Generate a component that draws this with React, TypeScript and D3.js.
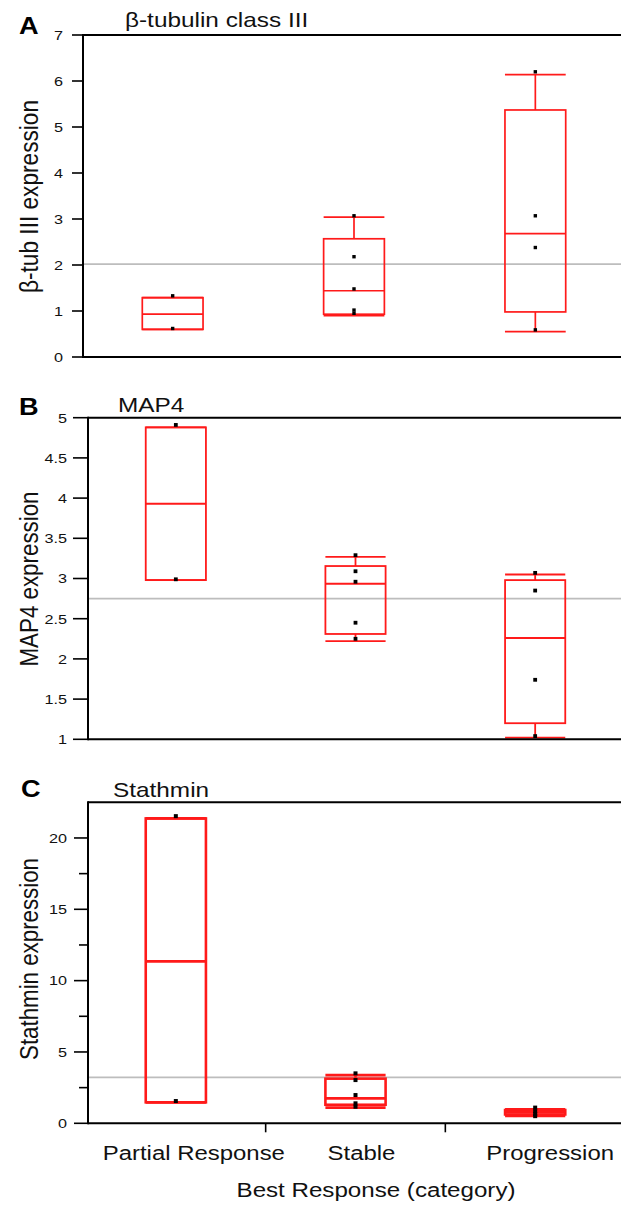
import React from "react";
import * as d3 from "d3";

// ---------- data ----------
const categories = ["Partial Response", "Stable", "Progression"];
// [min, q1, median, q3, max] per category
const tubBoxes = [
  [0.6, 0.6, 0.93, 1.29, 1.29],
  [0.9, 0.93, 1.44, 2.57, 3.04],
  [0.55, 0.98, 2.68, 5.37, 6.14],
];
const tubPoints = [
  [1.33, 0.62],
  [3.07, 2.18, 1.48, 1.02, 0.95],
  [6.2, 3.07, 2.38, 0.59],
];
const tubRef = 2.02;
const tubTicks = [0, 1, 2, 3, 4, 5, 6, 7];

const mapBoxes = [
  [2.98, 2.98, 3.93, 4.88, 4.88],
  [2.22, 2.31, 2.935, 3.155, 3.27],
  [1.02, 1.2, 2.26, 2.98, 3.05],
];
const mapPoints = [
  [4.91, 2.99],
  [3.29, 3.09, 2.96, 2.45, 2.25],
  [3.07, 2.85, 1.74, 1.04],
];
const mapRef = 2.75;
const mapTicks = [1, 1.5, 2, 2.5, 3, 3.5, 4, 4.5, 5];

const staBoxes = [
  [1.47, 1.47, 11.35, 21.37, 21.37],
  [1.1, 1.3, 1.75, 3.13, 3.38],
  [0.52, 0.62, 0.78, 0.93, 0.98],
];
const staPoints = [
  [21.53, 1.56],
  [3.5, 3.03, 1.98, 1.4, 1.16],
  [1.1, 0.85, 0.65, 0.5],
];
const staRef = 3.22;
const staTicks = [0, 5, 10, 15, 20];
const staMinorTicks = [2.5, 7.5, 12.5, 17.5];

const xAxisTitle = "Best Response (category)";

// ---------- drawing ----------
const FONT = '"Liberation Sans", Arial, Helvetica, sans-serif';
const RED = "#ff1a1a";

function SText({ x, y, size, sx = 1, sy = 1, anchor = "start", weight = "normal", rotate = false, fill = "#111", children, textLength }: any) {
  const t = `translate(${x},${y})${rotate ? " rotate(-90)" : ""} scale(${sx},${sy})`;
  return (
    <text
      transform={t}
      x={0}
      y={0}
      fontSize={size}
      fontFamily={FONT}
      fontWeight={weight}
      textAnchor={anchor}
      fill={fill}
      textLength={textLength}
      lengthAdjust={textLength ? "spacingAndGlyphs" : undefined}
    >
      {children}
    </text>
  );
}

function Panel({ cfg }: any) {
  const x = d3.scaleBand<string>().domain(categories).range(cfg.xRange).paddingInner(0).paddingOuter(0);
  const y = d3.scaleLinear().domain(cfg.domain).range([cfg.bottom, cfg.top]);
  const bw = x.step() * 0.335;
  const fmt = d3.format("~g");
  const right = 640;
  const ps = cfg.pointSize;
  return (
    <g>
      {/* reference line */}
      <line x1={cfg.left} x2={right} y1={y(cfg.ref)} y2={y(cfg.ref)} stroke="#bdbdbd" strokeWidth={1.6} />
      {/* boxes */}
      {cfg.boxes.map((b: number[], i: number) => {
        const c = (x(categories[i]) as number) + x.bandwidth() / 2;
        const [mn, q1, md, q3, mx] = b;
        return (
          <g key={i} stroke={RED} strokeWidth={cfg.boxStroke} fill="none">
            <line x1={c} x2={c} y1={y(mx)} y2={y(q3)} />
            <line x1={c} x2={c} y1={y(q1)} y2={y(mn)} />
            <line x1={c - bw / 2} x2={c + bw / 2} y1={y(mx)} y2={y(mx)} />
            <line x1={c - bw / 2} x2={c + bw / 2} y1={y(mn)} y2={y(mn)} />
            <rect x={c - bw / 2} y={y(q3)} width={bw} height={y(q1) - y(q3)} />
            <line x1={c - bw / 2} x2={c + bw / 2} y1={y(md)} y2={y(md)} />
          </g>
        );
      })}
      {/* points */}
      {cfg.points.map((pts: number[], i: number) => {
        const c = (x(categories[i]) as number) + x.bandwidth() / 2;
        return pts.map((v, j) => (
          <rect key={i + "-" + j} x={c - ps / 2} y={y(v) - ps / 2} width={ps} height={ps} fill="#000" />
        ));
      })}
      {/* frame */}
      <line x1={cfg.left} x2={right} y1={cfg.top} y2={cfg.top} stroke="#000" strokeWidth={2} />
      <line x1={cfg.left} x2={right} y1={cfg.bottom} y2={cfg.bottom} stroke="#000" strokeWidth={2} />
      <line x1={cfg.left} x2={cfg.left} y1={cfg.top - 1} y2={cfg.bottom + 1} stroke="#000" strokeWidth={2} />
      {/* y ticks */}
      {cfg.ticks.map((t: number) => (
        <g key={"t" + t}>
          <line x1={cfg.left - cfg.tickLen} x2={cfg.left} y1={y(t)} y2={y(t)} stroke="#000" strokeWidth={1.6} />
          <SText x={cfg.labelRight} y={y(t) + 4.8} size={13.5} sx={1.2} anchor="end">
            {fmt(t)}
          </SText>
        </g>
      ))}
      {(cfg.minor || []).map((t: number) => (
        <line key={"m" + t} x1={cfg.left - 9} x2={cfg.left} y1={y(t)} y2={y(t)} stroke="#000" strokeWidth={1.6} />
      ))}
      {/* bottom category ticks */}
      {cfg.xTicks &&
        categories.slice(1).map((c) => (
          <line key={"x" + c} x1={x(c) as number} x2={x(c) as number} y1={cfg.bottom} y2={cfg.bottom + 9} stroke="#000" strokeWidth={1.6} />
        ))}
      {/* letter + title */}
      <SText x={cfg.letterX} y={cfg.letterY} size={23} sx={1.18} weight="bold" fill="#000">
        {cfg.letter}
      </SText>
      <SText x={cfg.titleX} y={cfg.titleY} size={21} sx={1.16} fill="#111">
        {cfg.title}
      </SText>
      {/* y label */}
      <SText x={38} y={cfg.yLabelCenter} size={22} sy={1.15} rotate anchor="middle" textLength={cfg.yLabelLen}>
        {cfg.yLabel}
      </SText>
    </g>
  );
}

const panels = [
  {
    letter: "A", letterX: 19, letterY: 34,
    title: "β-tubulin class III", titleX: 125, titleY: 27,
    yLabel: "β-tub III expression", yLabelCenter: 196.5, yLabelLen: 193,
    top: 35, bottom: 357, left: 83, xRange: [82, 626], domain: [0, 7],
    ticks: tubTicks, tickLen: 11, labelRight: 63,
    boxes: tubBoxes, points: tubPoints, ref: tubRef, boxStroke: 1.7, pointSize: 3.4,
  },
  {
    letter: "B", letterX: 19, letterY: 415,
    title: "MAP4", titleX: 118, titleY: 412,
    yLabel: "MAP4 expression", yLabelCenter: 579, yLabelLen: 175,
    top: 417.7, bottom: 739.3, left: 88, xRange: [86, 625], domain: [1, 5],
    ticks: mapTicks, tickLen: 15, labelRight: 67,
    boxes: mapBoxes, points: mapPoints, ref: mapRef, boxStroke: 1.8, pointSize: 3.8,
  },
  {
    letter: "C", letterX: 21, letterY: 797,
    title: "Stathmin", titleX: 113, titleY: 797,
    yLabel: "Stathmin expression", yLabelCenter: 959, yLabelLen: 202,
    top: 802.3, bottom: 1123.3, left: 88, xRange: [86, 625], domain: [0, 22.5],
    ticks: staTicks, minor: staMinorTicks, tickLen: 14, labelRight: 67, xTicks: true,
    boxes: staBoxes, points: staPoints, ref: staRef, boxStroke: 2.6, pointSize: 4,
  },
];

const categoryLabelShift = [18, 6, 15];

export default function App() {
  const x = d3.scaleBand<string>().domain(categories).range([86, 625]);
  return (
    <svg width={621} height={1205} style={{ position: "absolute", left: 0, top: 0, background: "#fff" }}>
      <rect x={0} y={0} width={621} height={1205} fill="#fff" />
      {panels.map((p, i) => (
        <Panel key={i} cfg={p} />
      ))}
      {categories.map((c, i) => (
        <SText key={c} x={(x(c) as number) + x.bandwidth() / 2 + categoryLabelShift[i]} y={1160} size={21} sx={1.14} anchor="middle">
          {c}
        </SText>
      ))}
      <SText x={376} y={1197} size={21} sx={1.15} anchor="middle">
        {xAxisTitle}
      </SText>
    </svg>
  );
}
